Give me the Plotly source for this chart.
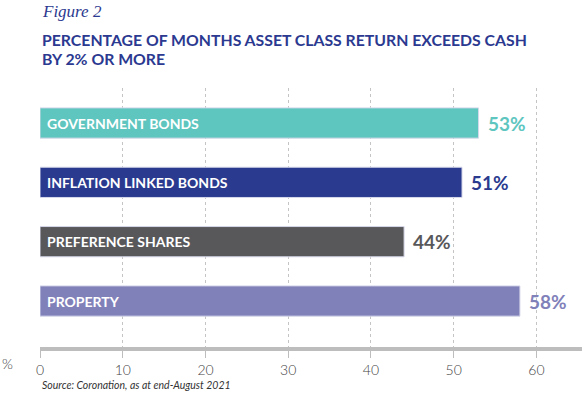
import plotly.graph_objects as go

categories = ["GOVERNMENT BONDS", "INFLATION LINKED BONDS", "PREFERENCE SHARES", "PROPERTY"]
values = [53, 51, 44, 58]
colors = ["#5EC6BF", "#2A3B8F", "#58585B", "#8181BA"]
tick_vals = [0, 10, 20, 30, 40, 50, 60]

navy = "#2B3990"

fig = go.Figure()
fig.add_trace(go.Bar(
    x=values, y=list(range(len(categories))), orientation="h",
    marker=dict(color=colors, line=dict(color="#D6D8EA", width=1)),
    width=0.51, hoverinfo="skip", showlegend=False,
))

annotations = []
for i, (c, v, col) in enumerate(zip(categories, values, colors)):
    annotations.append(dict(x=0, y=i, xref="x", yref="y", text=f"<b>{c}</b>",
                            xanchor="left", yanchor="middle", xshift=5, showarrow=False,
                            font=dict(family="Lato", size=14, color="white")))
    annotations.append(dict(x=v, y=i, xref="x", yref="y", text=f"<b>{v}%</b>",
                            xanchor="left", yanchor="middle", xshift=7, showarrow=False,
                            font=dict(family="Lato", size=19, color=col)))

annotations += [
    dict(x=40, y=12, xref="paper", yref="paper", text="<i>Figure 2</i>", showarrow=False,
         xanchor="left", yanchor="middle", font=dict(family="Liberation Serif", size=17, color=navy)),
    dict(x=40, y=40, xref="paper", yref="paper",
         text="<b>PERCENTAGE OF MONTHS ASSET CLASS RETURN EXCEEDS CASH</b>", showarrow=False,
         xanchor="left", yanchor="middle", font=dict(family="Lato", size=15.8, color=navy)),
    dict(x=40, y=58, xref="paper", yref="paper",
         text="<b>BY 2% OR MORE</b>", showarrow=False,
         xanchor="left", yanchor="middle", font=dict(family="Lato", size=15.8, color=navy)),
    dict(x=7, y=363, xref="paper", yref="paper", text="%", showarrow=False,
         xanchor="center", yanchor="middle", font=dict(family="Lato", size=14, color="#444444", weight=300)),
    dict(x=40, y=385, xref="paper", yref="paper",
         text="<i>Source: Coronation, as at end-August 2021</i>", showarrow=False,
         xanchor="left", yanchor="middle", font=dict(family="Lato", size=10.5, color="#333333")),
]

W, H = 582, 395
ml, mr, mt, mb = 40, 0, 88, 48
pw, ph = W - ml - mr, H - mt - mb
for a in annotations:
    if a["xref"] == "paper":
        a["x"] = (a["x"] - ml) / pw
        a["y"] = 1 - (a["y"] - mt) / ph

fig.update_layout(
    width=W, height=H,
    margin=dict(l=ml, r=mr, t=mt, b=mb, autoexpand=False),
    paper_bgcolor="white", plot_bgcolor="white",
    annotations=annotations,
    xaxis=dict(range=[0, 65.5], tickvals=tick_vals, ticktext=[str(t) for t in tick_vals],
               showgrid=True, gridcolor="#C4C4C4", griddash="dot", gridwidth=1,
               zeroline=False, showline=True, linecolor="#BDBDBD", linewidth=4,
               ticks="outside", ticklen=7, tickcolor="#BDBDBD", tickwidth=1,
               automargin=False,
               tickfont=dict(family="Lato", size=14, color="#444444", weight=300), fixedrange=True),
    yaxis=dict(range=[3.775, -0.59], showticklabels=False, showgrid=False, zeroline=False,
               showline=False, fixedrange=True, automargin=False),
)

fig.write_html("out.html", config={"displayModeBar": False},
               post_script="document.body.style.margin='0';document.body.style.overflow='hidden';")
